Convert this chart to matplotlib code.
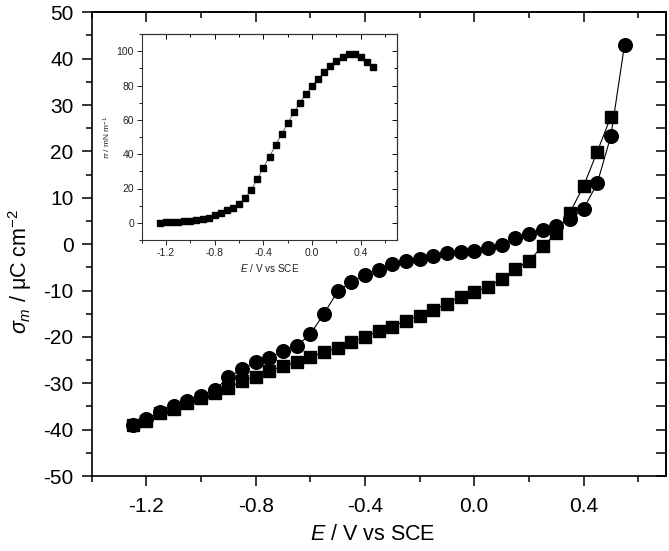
import matplotlib
matplotlib.use("Agg")
import matplotlib.pyplot as plt
from matplotlib.ticker import MultipleLocator, FormatStrFormatter

plt.rcParams['font.family'] = ['Liberation Sans', 'DejaVu Sans']
plt.rcParams['mathtext.fontset'] = 'custom'
plt.rcParams['mathtext.rm'] = 'Liberation Sans'
plt.rcParams['mathtext.it'] = 'Liberation Sans:italic'
plt.rcParams['mathtext.sf'] = 'Liberation Sans'
plt.rcParams['axes.unicode_minus'] = False

# ---- main data: charge density vs potential ----
E_circles = [-1.25, -1.20, -1.15, -1.10, -1.05, -1.00, -0.95, -0.90, -0.85, -0.80,
             -0.75, -0.70, -0.65, -0.60, -0.55, -0.50, -0.45, -0.40, -0.35, -0.30,
             -0.25, -0.20, -0.15, -0.10, -0.05, 0.00, 0.05, 0.10, 0.15, 0.20,
             0.25, 0.30, 0.35, 0.40, 0.45, 0.50, 0.55]
sigma_circles = [-39.1, -37.6, -36.3, -34.9, -33.8, -32.7, -31.5, -28.7, -27.0, -25.4,
                 -24.5, -23.0, -22.0, -19.4, -15.0, -10.2, -8.2, -6.65, -5.5, -4.3,
                 -3.6, -3.1, -2.5, -2.0, -1.8, -1.4, -0.9, -0.2, 1.3, 2.1,
                 3.05, 4.0, 5.4, 7.6, 13.1, 23.3, 43.0]

E_squares = [-1.25, -1.20, -1.15, -1.10, -1.05, -1.00, -0.95, -0.90, -0.85, -0.80,
             -0.75, -0.70, -0.65, -0.60, -0.55, -0.50, -0.45, -0.40, -0.35, -0.30,
             -0.25, -0.20, -0.15, -0.10, -0.05, 0.00, 0.05, 0.10, 0.15, 0.20,
             0.25, 0.30, 0.35, 0.40, 0.45, 0.50]
sigma_squares = [-39.0, -38.1, -36.5, -35.6, -34.3, -33.2, -32.2, -31.0, -29.5, -28.6,
                 -27.4, -26.3, -25.4, -24.3, -23.3, -22.3, -21.0, -20.0, -18.7, -17.8,
                 -16.5, -15.4, -14.3, -12.8, -11.3, -10.4, -9.2, -7.5, -5.4, -3.6,
                 -0.5, 2.3, 6.8, 12.5, 19.9, 27.5]

# ---- inset data: surface pressure vs potential ----
E_inset = [-1.25, -1.20, -1.15, -1.10, -1.05, -1.00, -0.95, -0.90, -0.85, -0.80,
           -0.75, -0.70, -0.65, -0.60, -0.55, -0.50, -0.45, -0.40, -0.35, -0.30,
           -0.25, -0.20, -0.15, -0.10, -0.05, 0.00, 0.05, 0.10, 0.15, 0.20,
           0.25, 0.30, 0.35, 0.40, 0.45, 0.50]
pi_inset = [0.0, 0.2, 0.4, 0.6, 0.8, 1.0, 1.4, 2.0, 3.1, 4.5,
            6.0, 7.4, 8.7, 11.1, 14.4, 19.4, 25.4, 32.2, 38.6, 45.2,
            51.8, 58.1, 64.3, 69.9, 75.0, 79.6, 83.9, 87.8, 91.3, 94.4,
            96.7, 98.1, 98.3, 96.5, 93.4, 90.7]

W, H = 669, 551
fig = plt.figure(figsize=(W / 100, H / 100), dpi=100)

# main axes
ax = fig.add_axes([91.7 / W, 1 - 476 / H, (665.5 - 91.7) / W, (476 - 12.3) / H])
ax.plot(E_squares, sigma_squares, color='black', lw=0.8, marker='s', ms=8.6,
        mfc='black', mec='black', zorder=3)
ax.plot(E_circles, sigma_circles, color='black', lw=0.8, marker='o', ms=9.8,
        mfc='black', mec='black', zorder=4)
ax.set_xlim(-1.4, 0.7)
ax.set_ylim(-50, 50)
ax.xaxis.set_major_locator(MultipleLocator(0.4))
ax.xaxis.set_minor_locator(MultipleLocator(0.2))
ax.yaxis.set_major_locator(MultipleLocator(10))
ax.yaxis.set_minor_locator(MultipleLocator(5))
ax.xaxis.set_major_formatter(FormatStrFormatter('%.1f'))
ax.set_xticks([-1.2, -0.8, -0.4, 0.0, 0.4])
for s in ax.spines.values():
    s.set_linewidth(1.2)
ax.tick_params(axis='both', which='major', direction='out', length=7, width=1.1,
               labelsize=15, pad=6)
ax.tick_params(axis='both', which='minor', direction='out', length=4, width=1.1)
ax.tick_params(axis='x', which='major', pad=8)
# mirrored inward ticks on top and right via secondary axes
axt = ax.secondary_xaxis('top')
axt.xaxis.set_major_locator(MultipleLocator(0.4))
axt.xaxis.set_minor_locator(MultipleLocator(0.2))
axt.set_xticks([-1.2, -0.8, -0.4, 0.0, 0.4])
axt.tick_params(which='major', direction='in', length=7, width=1.1, labeltop=False)
axt.tick_params(which='minor', direction='in', length=4, width=1.1)
axt.spines['top'].set_linewidth(1.2)
axr = ax.secondary_yaxis('right')
axr.yaxis.set_major_locator(MultipleLocator(10))
axr.yaxis.set_minor_locator(MultipleLocator(5))
axr.tick_params(which='major', direction='in', length=7, width=1.1, labelright=False)
axr.tick_params(which='minor', direction='in', length=7, width=1.1)
axr.spines['right'].set_linewidth(1.2)

ax.set_xlabel(r'$E$ / V vs SCE', fontsize=15.5)
ax.xaxis.set_label_coords(0.49, -0.127)
ax.xaxis.label.set_va('center')
ax.set_ylabel(r'$\sigma_m$ / μC cm$^{-2}$', fontsize=15.5, va='center')
ax.yaxis.set_label_coords(-0.125, 0.442)

# inset axes
axi = fig.add_axes([141.7 / W, 1 - 240 / H, (397.3 - 141.7) / W, (240 - 34) / H])
axi.plot(E_inset, pi_inset, color='#555555', lw=0.6, marker='s', ms=3.8,
         mfc='black', mec='black')
axi.set_xlim(-1.4, 0.7)
axi.set_ylim(-10, 110)
axi.set_xticks([-1.2, -0.8, -0.4, 0.0, 0.4])
axi.xaxis.set_minor_locator(MultipleLocator(0.2))
axi.yaxis.set_major_locator(MultipleLocator(20))
axi.yaxis.set_minor_locator(MultipleLocator(10))
axi.xaxis.set_major_formatter(FormatStrFormatter('%.1f'))
for s in axi.spines.values():
    s.set_linewidth(0.8)
    s.set_color('#333333')
axi.tick_params(axis='both', which='major', direction='out', length=3.5, width=0.7,
                labelsize=7.5, pad=2, colors='#222222')
axi.tick_params(axis='both', which='minor', direction='out', length=2, width=0.7,
                colors='#222222')
ait = axi.secondary_xaxis('top')
ait.set_xticks([-1.2, -0.8, -0.4, 0.0, 0.4])
ait.xaxis.set_minor_locator(MultipleLocator(0.2))
ait.tick_params(which='major', direction='in', length=3.5, width=0.7, labeltop=False)
ait.tick_params(which='minor', direction='in', length=2, width=0.7)
ait.spines['top'].set_linewidth(0.8)
air = axi.secondary_yaxis('right')
air.yaxis.set_major_locator(MultipleLocator(20))
air.yaxis.set_minor_locator(MultipleLocator(10))
air.tick_params(which='major', direction='in', length=3.5, width=0.7, labelright=False)
air.tick_params(which='minor', direction='in', length=2, width=0.7)
air.spines['right'].set_linewidth(0.8)
axi.set_xlabel(r'$E$ / V vs SCE', fontsize=7.2, color='#222222', labelpad=3)
axi.set_ylabel(r'$\pi$ / mN m$^{-1}$', fontsize=6, color='#222222', labelpad=3)

fig.savefig('out.png', dpi=100)
